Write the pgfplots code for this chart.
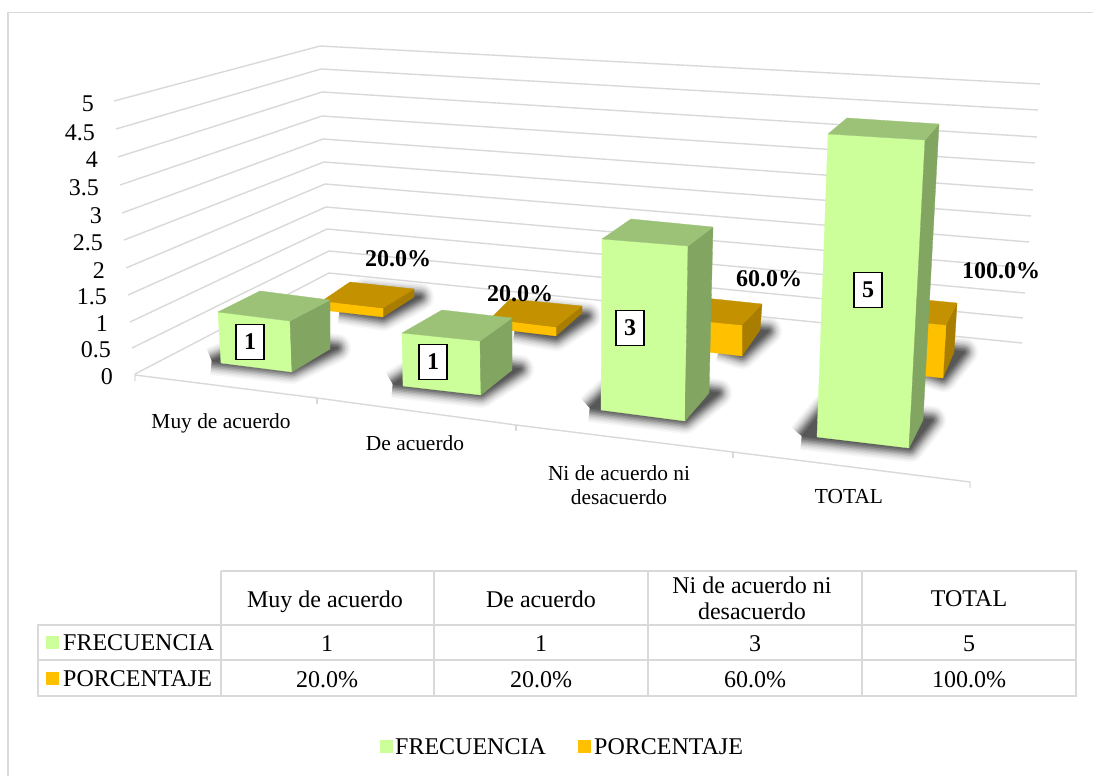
\documentclass[border=0pt]{standalone}
\usepackage{pgfplots}
\pgfplotsset{compat=1.18}
\usepackage{fontspec}
\setmainfont{Liberation Serif}
\definecolor{gridc}{HTML}{D9D9D9}
\definecolor{gF}{HTML}{CCFF99}
\definecolor{gT}{HTML}{9CC278}
\definecolor{gS}{HTML}{82A661}
\definecolor{oF}{HTML}{FFC000}
\definecolor{oT}{HTML}{C49200}
\definecolor{oS}{HTML}{A87D00}
\newcommand\face[2]{\addplot[fill=#1,draw=#1,line width=.3pt,line join=round] coordinates {#2};}
\newcommand\gl[1]{\addplot[draw=gridc,line width=1.4pt] coordinates {#1};}
\newcommand\tl[1]{\addplot[draw=gridc,line width=1.8pt] coordinates {#1};}
\newcommand\shl[3]{\addplot[draw=black!#1,fill=black!#1,line width=#2pt,line join=round] coordinates {#3};}
\newcommand\shadow[1]{%
\shl{3}{28}{#1}\shl{7}{25}{#1}\shl{12}{22}{#1}\shl{18}{19}{#1}\shl{26}{16}{#1}\shl{35}{13}{#1}\shl{44}{10}{#1}\shl{53}{7}{#1}\shl{60}{4}{#1}\shl{66}{1}{#1}}
\newcommand\fa{\fontsize{24}{28}\selectfont}
\newcommand\fb{\fontsize{21.4}{24}\selectfont}
\tikzset{ta/.style={font=\fa,inner sep=0pt,text height=16pt,text depth=0pt},
         tb/.style={font=\fb,inner sep=0pt,text height=14pt,text depth=0pt},
         tc/.style={font=\fa\bfseries,inner sep=0pt,text height=16pt,text depth=0pt},
         bx/.style={draw=black,fill=white,line width=1.7pt,font=\fa\bfseries,minimum width=28pt,minimum height=35pt,inner sep=0pt}}
\begin{document}
\begin{tikzpicture}
\begin{axis}[at={(0,0)},scale only axis,width=1094pt,height=776pt,xmin=0,xmax=1094,ymin=0,ymax=776,y dir=reverse,hide axis,clip=false]
% page
\addplot[draw=none,fill=white] coordinates {(0,0)(1094,0)(1094,776)(0,776)(0,0)};
% frame
\addplot[draw=gridc,line width=1.5pt] coordinates {(8,776)(8,12.5)(1093,12.5)};
% shadows
\shadow{(340,310)(383,317)(420,297)(365,292)(340,310)}
\shadow{(212,361)(292,370)(337,348)(265,339)(212,361)}
\shadow{(515,330)(556,337)(587,316)(535,310)(515,330)}
\shadow{(393,384)(481,394)(520,369)(435,358)(393,384)}
\shadow{(720,348)(742,355)(768,331)(725,328)(720,348)}
\shadow{(590,408)(685,420)(718,393)(620,380)(590,408)}
\shadow{(920,370)(943,378)(964,352)(930,348)(920,370)}
\shadow{(802,436)(910,448)(932,420)(825,408)(802,436)}
% grid lines: level by level (left end, back corner, right end)
\gl{(135,374)(329,273)(1022,343)}
\gl{(132,348)(329,251)(1023,318)}
\gl{(130,322)(327,229)(1025,293)}
\gl{(128,295)(326,207)(1027,268)}
\gl{(126,268)(325,184)(1029,242)}
\gl{(124,240)(324,162)(1031,216)}
\gl{(122,213)(323,139)(1033,190)}
\gl{(120,185)(322,116)(1035,163)}
\gl{(118,157)(322,92)(1037,137)}
\gl{(116,129)(321,69)(1038,110)}
\gl{(114,101)(320,46)(1040,84)}
% floor edge with ticks
\gl{(135,381)(135,375)(317,398)(516,425)(733,452)(970,482)(970,488)}
\gl{(317,398)(317,404)}
\gl{(516,425)(516,431)}
\gl{(733,452)(733,458)}
% bars, back to front
\face{oS}{(383,308)(414,289)(414,297)(383,317)(383,308)}
\face{oF}{(322,301)(383,308)(383,317)(322,310)(322,301)}
\face{oT}{(322,301)(383,308)(414,289)(350,282)(322,301)}
\face{gF}{(218,312)(290,321)(292,372)(221,363)(218,312)}
\face{gS}{(290,321)(330,300)(330,349)(292,372)(290,321)}
\face{gT}{(218,312)(290,321)(330,300)(260,291)(218,312)}
%
\face{oS}{(556,327)(582,306)(582,313)(556,336)(556,327)}
\face{oF}{(490,319)(556,327)(556,336)(490,328)(490,319)}
\face{oT}{(490,319)(556,327)(582,306)(510,299)(490,319)}
\face{gF}{(402,333)(480,341)(481,395)(403,386)(402,333)}
\face{gS}{(480,341)(512,318)(512,370)(481,395)(480,341)}
\face{gT}{(402,333)(480,341)(512,318)(442,310)(402,333)}
%
\face{oS}{(742,325)(762,304)(760,330)(742,356)(742,325)}
\face{oF}{(690,320)(742,325)(742,356)(690,350)(690,320)}
\face{oT}{(690,320)(742,325)(762,304)(695,297)(690,320)}
\face{gF}{(602,239)(688,246)(685,421)(601,410)(602,239)}
\face{gS}{(688,246)(713,227)(709,393)(685,421)(688,246)}
\face{gT}{(602,239)(688,246)(713,227)(631,219)(602,239)}
%
\face{oS}{(946,325)(957,303)(954,352)(943,378)(946,325)}
\face{oF}{(905,321)(946,325)(943,378)(905,374)(905,321)}
\face{oT}{(905,321)(946,325)(957,303)(915,299)(905,321)}
\face{gF}{(828,134)(925,140)(909,448)(817,437)(828,134)}
\face{gS}{(925,140)(939,124)(923,420)(909,448)(925,140)}
\face{gT}{(828,134)(925,140)(939,124)(847,118)(828,134)}
% table lines
\tl{(221,571)(1076,571)(1076,696)(38,696)(38,625)(1076,625)}
\tl{(38,660)(1076,660)}
\tl{(221,571)(221,696)}
\tl{(434,571)(434,696)}
\tl{(648,571)(648,696)}
\tl{(862,571)(862,696)}
% swatches
\face{gF}{(46,636)(58,636)(58,648)(46,648)(46,636)}
\face{oF}{(46,672)(58,672)(58,684)(46,684)(46,672)}
\face{gF}{(380,740)(392,740)(392,752)(380,752)(380,740)}
\face{oF}{(578,740)(590,740)(590,752)(578,752)(578,740)}
% y tick labels
\node[ta,anchor=east] at (axis cs:94,103) {5};
\node[ta,anchor=east] at (axis cs:95,132) {4.5};
\node[ta,anchor=east] at (axis cs:98,159) {4};
\node[ta,anchor=east] at (axis cs:99,187) {3.5};
\node[ta,anchor=east] at (axis cs:102,215) {3};
\node[ta,anchor=east] at (axis cs:103,242) {2.5};
\node[ta,anchor=east] at (axis cs:105,270) {2};
\node[ta,anchor=east] at (axis cs:107,296) {1.5};
\node[ta,anchor=east] at (axis cs:108,323) {1};
\node[ta,anchor=east] at (axis cs:111,349) {0.5};
\node[ta,anchor=east] at (axis cs:113,376) {0};
% axis category labels
\node[tb] at (axis cs:221,421) {Muy de acuerdo};
\node[tb] at (axis cs:415,443) {De acuerdo};
\node[tb] at (axis cs:619,473) {Ni de acuerdo ni};
\node[tb] at (axis cs:619,497) {desacuerdo};
\node[tb] at (axis cs:849,496) {TOTAL};
% data labels
\node[tc] at (axis cs:398,258) {20.0\%};
\node[tc] at (axis cs:520,293) {20.0\%};
\node[tc] at (axis cs:769,278) {60.0\%};
\node[tc] at (axis cs:1001,270) {100.0\%};
\node[bx] at (axis cs:250,342) {1};
\node[bx] at (axis cs:433,362) {1};
\node[bx] at (axis cs:630,328) {3};
\node[bx] at (axis cs:868,290) {5};
% table text
\node[ta] at (axis cs:325,599) {Muy de acuerdo};
\node[ta] at (axis cs:541,599) {De acuerdo};
\node[ta] at (axis cs:752,585) {Ni de acuerdo ni};
\node[ta] at (axis cs:752,611) {desacuerdo};
\node[ta] at (axis cs:969,598) {TOTAL};
\node[ta,anchor=west] at (axis cs:63,642) {FRECUENCIA};
\node[ta,anchor=west] at (axis cs:63,678) {PORCENTAJE};
\node[ta] at (axis cs:327,643) {1};
\node[ta] at (axis cs:541,643) {1};
\node[ta] at (axis cs:755,643) {3};
\node[ta] at (axis cs:969,643) {5};
\node[ta] at (axis cs:327,679) {20.0\%};
\node[ta] at (axis cs:541,679) {20.0\%};
\node[ta] at (axis cs:755,679) {60.0\%};
\node[ta] at (axis cs:969,679) {100.0\%};
\node[ta,anchor=west] at (axis cs:395,746) {FRECUENCIA};
\node[ta,anchor=west] at (axis cs:594,746) {PORCENTAJE};
\end{axis}
\end{tikzpicture}
\end{document}
